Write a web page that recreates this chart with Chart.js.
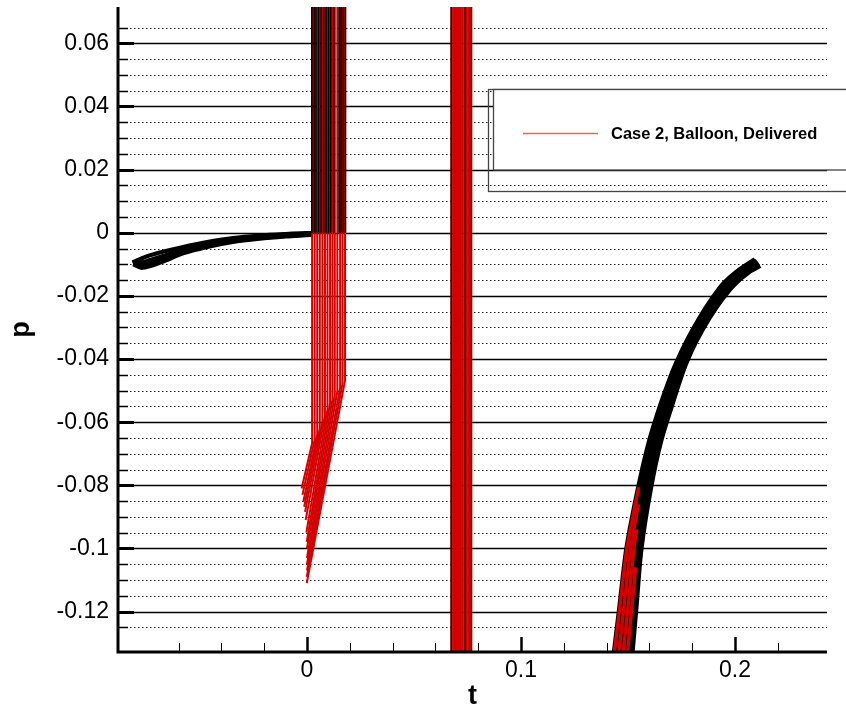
<!DOCTYPE html>
<html>
<head>
<meta charset="utf-8">
<title>p vs t</title>
<script src="https://cdn.jsdelivr.net/npm/chart.js@4.4.1/dist/chart.umd.min.js"></script>
<style>
  html, body { margin: 0; padding: 0; background: #fff; }
  #chart { display: block; }
</style>
</head>
<body>
<canvas id="chart" width="846" height="710"></canvas>
<script>
// axis ranges and tick steps
const tRange = [-0.0883, 0.2430];
const pRange = [-0.1328, 0.0715];
const tStep = 0.02, tLabelStep = 0.1;
const pStep = 0.005, pLabelStep = 0.02;

const seriesLabel = 'Case 2, Balloon, Delivered';
const red = 'rgb(212,0,0)';

// black band before t = 0 (four strands, upper to lower)
const preUpper = [[-0.0815,-0.0094],[-0.0750,-0.0075],[-0.0655,-0.0057],[-0.0579,-0.0045],[-0.0460,-0.0029],[-0.0346,-0.0017],[-0.0220,-0.0009],[-0.0100,-0.0004],[-0.0033,-0.0002],[0.0023,-0.0001]];
const preMid = [[-0.0814,-0.0097],[-0.0760,-0.0092],[-0.0670,-0.0073],[-0.0579,-0.0055],[-0.0460,-0.0037],[-0.0346,-0.0023],[-0.0220,-0.0013],[-0.0100,-0.0007],[-0.0033,-0.0005],[0.0023,-0.0004]];
const preMid2 = [[-0.0813,-0.0099],[-0.0766,-0.0102],[-0.0675,-0.0083],[-0.0579,-0.0060],[-0.0460,-0.0041],[-0.0346,-0.0026],[-0.0220,-0.0016],[-0.0100,-0.0010],[-0.0033,-0.0007],[0.0023,-0.0006]];
const preLower = [[-0.0812,-0.0100],[-0.0770,-0.0111],[-0.0680,-0.0093],[-0.0579,-0.0065],[-0.0460,-0.0044],[-0.0346,-0.0029],[-0.0220,-0.0019],[-0.0100,-0.0012],[-0.0033,-0.0009],[0.0023,-0.0007]];

// first spike group: red traces coming down from the top, bending left near p = -0.05 .. -0.07
const spikeT     = [0.0024, 0.0036, 0.0048, 0.0060, 0.0072, 0.0084, 0.0096, 0.0108, 0.0119, 0.0130, 0.0142, 0.0155, 0.0166, 0.0178];
const spikeBendP = [-0.0667, -0.0655, -0.0640, -0.0620, -0.0600, -0.0580, -0.0560, -0.0540, -0.0528, -0.0515, -0.0502, -0.0490, -0.0478, -0.0467];
const spikeEndT  = [-0.0025, -0.0021, -0.0017, -0.0013, -0.0009, -0.0006, -0.0003, -0.0001, 0.0000, 0.0000, 0.0000, 0.0000, -0.0001, -0.0001];
const spikeEndP  = [-0.0810, -0.0830, -0.0852, -0.0868, -0.0884, -0.0910, -0.0950, -0.0979, -0.1000, -0.1030, -0.1050, -0.1070, -0.1090, -0.1110];
// black traces over the spike group, from p = 0 upwards
const spikeBlackT = [0.0023, 0.0033, 0.0042, 0.0054, 0.0066, 0.0078, 0.0090, 0.0101, 0.0112, 0.0125, 0.0150, 0.0160, 0.0170, 0.0180];

// second spike group, full height
const bandRedT = [0.0676, 0.0686, 0.0696, 0.0706, 0.0716, 0.0726, 0.0736, 0.0746, 0.0756, 0.0766];
const bandBlackT = [0.0674, 0.0739, 0.0769];
const fullP = [0.075, -0.14];
const upP = [0.0, 0.075];

// recovery curve after t = 0.14: shared p levels, five strands across the band
const recP   = [-0.136, -0.118, -0.0999, -0.0806, -0.0657, -0.0536, -0.047, -0.041, -0.034, -0.027, -0.021, -0.0162, -0.0125];
const recLT  = [0.1431, 0.1463, 0.1495, 0.1550, 0.1602, 0.1658, 0.1693, 0.1729, 0.1778, 0.1836, 0.1893, 0.1946, 0.2007];
const recQ1T = [0.1452, 0.1482, 0.1512, 0.1564, 0.1615, 0.1670, 0.1705, 0.1740, 0.1789, 0.1847, 0.1904, 0.1959, 0.2021];
const recQ2T = [0.1473, 0.1501, 0.1528, 0.1578, 0.1628, 0.1683, 0.1716, 0.1751, 0.1799, 0.1858, 0.1916, 0.1972, 0.2035];
const recQ3T = [0.1494, 0.1519, 0.1544, 0.1592, 0.1641, 0.1696, 0.1728, 0.1761, 0.1810, 0.1868, 0.1928, 0.1985, 0.2049];
const recRT  = [0.1515, 0.1538, 0.1561, 0.1606, 0.1654, 0.1709, 0.1740, 0.1772, 0.1820, 0.1879, 0.1939, 0.1998, 0.2063];
// end points of the five strands (the forked tip)
const recEndT = [0.2094, 0.2103, 0.2108, 0.2112, 0.2117];
const recEndP = [-0.0085, -0.0090, -0.0094, -0.0099, -0.0104];
// red traces on the lower part of the recovery curve
const recRedA = [[0.1431,-0.136],[0.1463,-0.118],[0.1495,-0.0999],[0.1550,-0.0806]];
const recRedB = [[0.1452,-0.136],[0.1482,-0.118],[0.1512,-0.0999],[0.1549,-0.0860]];
const recRedC = [[0.1473,-0.136],[0.1501,-0.118],[0.1528,-0.0999],[0.1541,-0.0940]];
const recRedD = [[0.1494,-0.136],[0.1519,-0.118],[0.1536,-0.1060]];

function line(points, color, width, tension) {
    return {
        data: points.map(([x, y]) => ({ x, y })),
        showLine: true,
        pointRadius: 0,
        borderColor: color,
        borderWidth: width,
        tension: tension || 0,
        fill: false
    };
}

// build datasets bottom to top
const layers = [];
[preUpper, preMid, preMid2, preLower].forEach(a => layers.push(line(a, '#000', 4.2, 0.3)));
spikeT.forEach((t, i) => {
    layers.push(line([[t, 0.075], [t, spikeBendP[i]], [spikeEndT[i], spikeEndP[i]]], red, 2));
});
spikeBlackT.forEach(t => layers.push(line(upP.map(p => [t, p]), '#000', 1.6)));
bandRedT.forEach(t => layers.push(line(fullP.map(p => [t, p]), red, 2.5)));
bandBlackT.forEach(t => layers.push(line(fullP.map(p => [t, p]), '#000', 1.3)));
[recLT, recQ1T, recQ2T, recQ3T, recRT].forEach((ts, k) => {
    const pts = ts.map((t, i) => [t, recP[i]]);
    pts.push([recEndT[k], recEndP[k]]);
    layers.push(line(pts, '#000', 5.2, 0.3));
});
[recRedA, recRedB, recRedC, recRedD].forEach(a => layers.push(line(a, red, 3.4, 0.2)));
layers.forEach((d, i) => { d.order = -i; });
layers[0].label = seriesLabel;

const near = (v, step) => Math.abs(v / step - Math.round(v / step)) < 1e-6;
const fmt = v => String(Math.round(v * 100) / 100);

// tecplot-like frame: solid/dotted grid, inward ticks, thick axes, boxed legend
const tecplotFrame = {
    id: 'tecplotFrame',
    beforeDatasetsDraw(chart) {
        const { ctx, chartArea: a } = chart;
        const y = chart.scales.y;
        ctx.save();
        for (const tick of y.ticks) {
            const py = Math.round(y.getPixelForValue(tick.value)) + 0.5;
            ctx.beginPath();
            if (near(tick.value, pLabelStep)) {
                ctx.setLineDash([]);
                ctx.strokeStyle = '#000';
                ctx.lineWidth = 1.3;
            } else {
                ctx.setLineDash([1.5, 2.5]);
                ctx.strokeStyle = '#222';
                ctx.lineWidth = 1.2;
            }
            ctx.moveTo(a.left, py);
            ctx.lineTo(a.right, py);
            ctx.stroke();
        }
        ctx.restore();
    },
    afterDatasetsDraw(chart) {
        const { ctx, chartArea: a, scales: { x, y } } = chart;
        ctx.save();
        ctx.strokeStyle = '#000';
        ctx.setLineDash([]);
        for (const tick of y.ticks) {
            const py = Math.round(y.getPixelForValue(tick.value)) + 0.5;
            const major = near(tick.value, pLabelStep);
            ctx.lineWidth = major ? 3 : 1.5;
            ctx.beginPath();
            ctx.moveTo(a.left, py);
            ctx.lineTo(a.left + (major ? 16 : 10), py);
            ctx.stroke();
        }
        for (const tick of x.ticks) {
            const px = Math.round(x.getPixelForValue(tick.value)) + 0.5;
            const major = near(tick.value, tLabelStep);
            ctx.lineWidth = major ? 2.5 : 1;
            ctx.beginPath();
            ctx.moveTo(px, a.bottom);
            ctx.lineTo(px, a.bottom - (major ? 15 : 9));
            ctx.stroke();
        }
        // axis lines
        ctx.lineWidth = 3;
        ctx.beginPath();
        ctx.moveTo(a.left, a.top);
        ctx.lineTo(a.left, a.bottom + 1.5);
        ctx.moveTo(a.left - 1.5, a.bottom);
        ctx.lineTo(a.right, a.bottom);
        ctx.stroke();

        // legend box
        ctx.lineWidth = 1.3;
        ctx.strokeStyle = '#444';
        ctx.strokeRect(488.5, 89.5, 400, 102);
        ctx.fillStyle = '#fff';
        ctx.fillRect(493, 89, 400, 81);
        ctx.strokeRect(493.5, 89.5, 400, 80.5);
        ctx.strokeStyle = 'rgb(232,100,100)';
        ctx.lineWidth = 1.4;
        ctx.beginPath();
        ctx.moveTo(523, 133.5);
        ctx.lineTo(598, 133.5);
        ctx.stroke();
        ctx.fillStyle = '#000';
        ctx.font = "bold 16.5px 'Liberation Sans', Arial, sans-serif";
        ctx.textBaseline = 'middle';
        ctx.textAlign = 'left';
        ctx.fillText(chart.data.datasets[0].label, 611, 134);
        ctx.restore();
    }
};

Chart.defaults.font.family = "'Liberation Sans', Arial, sans-serif";
Chart.defaults.color = '#000';

const ctx = document.getElementById('chart').getContext('2d');
new Chart(ctx, {
    type: 'scatter',
    data: { datasets: layers },
    options: {
        responsive: false,
        animation: false,
        layout: { padding: { top: 7, right: 19, left: 0, bottom: 0 } },
        plugins: { legend: { display: false }, tooltip: { enabled: false } },
        scales: {
            x: {
                type: 'linear',
                min: tRange[0],
                max: tRange[1],
                afterBuildTicks: s => { s.ticks = s.ticks.filter(t => near(t.value, tStep)); },
                afterFit: s => { s.height = 58; s.paddingLeft = 0; s.paddingRight = 0; },
                ticks: {
                    stepSize: tStep,
                    autoSkip: false,
                    maxRotation: 0,
                    padding: 5,
                    font: { size: 23 },
                    color: '#000',
                    callback: v => near(v, tLabelStep) ? fmt(v) : ''
                },
                grid: { display: false, drawTicks: false },
                border: { display: false },
                title: { display: true, text: 't', color: '#000', padding: 0, font: { size: 27, weight: 'bold', lineHeight: 1 } }
            },
            y: {
                type: 'linear',
                min: pRange[0],
                max: pRange[1],
                afterBuildTicks: s => { s.ticks = s.ticks.filter(t => near(t.value, pStep)); },
                afterFit: s => { s.width = 118; s.paddingTop = 0; s.paddingBottom = 0; },
                ticks: {
                    stepSize: pStep,
                    autoSkip: false,
                    padding: 9,
                    font: { size: 23 },
                    color: '#000',
                    callback: v => near(v, pLabelStep) ? fmt(v) : ''
                },
                grid: { display: false, drawTicks: false },
                border: { display: false },
                title: { display: true, text: 'p', color: '#000', padding: { top: 8, bottom: 0 }, font: { size: 27, weight: 'bold', lineHeight: 1 } }
            }
        }
    },
    plugins: [tecplotFrame]
});
</script>
</body>
</html>
